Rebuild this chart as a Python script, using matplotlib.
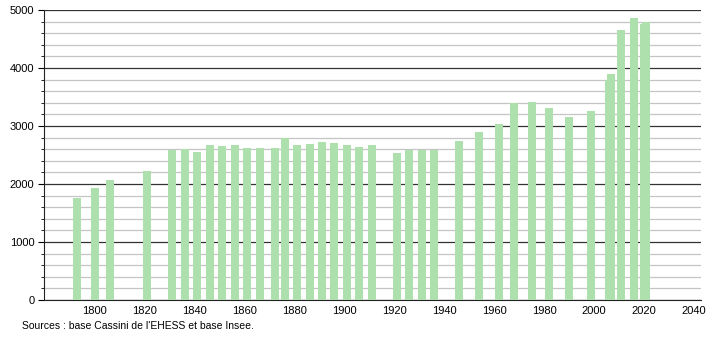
import matplotlib
matplotlib.use("Agg")
import matplotlib.pyplot as plt
from matplotlib.ticker import MultipleLocator

# population par recensement
years = [1793, 1800, 1806, 1821, 1831, 1836, 1841, 1846, 1851, 1856,
         1861, 1866, 1872, 1876, 1881, 1886, 1891, 1896, 1901, 1906,
         1911, 1921, 1926, 1931, 1936, 1946, 1954, 1962, 1968, 1975,
         1982, 1990, 1999, 2006, 2007, 2011, 2016, 2020, 2021]
population = [1766, 1939, 2071, 2227, 2583, 2606, 2560, 2675, 2647, 2664,
              2629, 2629, 2629, 2790, 2675, 2693, 2727, 2710, 2675, 2641,
              2681, 2526, 2578, 2589, 2578, 2745, 2900, 3038, 3389, 3418,
              3303, 3147, 3262, 3790, 3897, 4661, 4862, 4760, 4787]
xticks = [1800, 1820, 1840, 1860, 1880, 1900, 1920, 1940, 1960, 1980, 2000, 2020, 2040]

plt.rcParams['font.family'] = ['Liberation Sans', 'DejaVu Sans']

fig = plt.figure(figsize=(7.1, 3.4), dpi=100)
ax = fig.add_axes([0.062, 0.1176, 0.925, 0.853])

ax.bar(years, population, width=3.2, color='#ade0ad', zorder=3)

ax.set_xlim(1779.6, 2042.8)
ax.set_ylim(0, 5000)
ax.set_xticks(xticks)
ax.yaxis.set_major_locator(MultipleLocator(1000))
ax.yaxis.set_minor_locator(MultipleLocator(200))

ax.grid(axis='y', which='major', color='#333333', lw=0.9, zorder=1)
ax.grid(axis='y', which='minor', color='#c4c4c4', lw=0.9, zorder=0)

for s in ['top', 'right']:
    ax.spines[s].set_visible(False)
ax.spines['left'].set_color('#222222')
ax.spines['bottom'].set_color('#222222')
ax.tick_params(axis='x', length=0, labelsize=8, pad=4)
ax.tick_params(axis='y', which='major', length=4, labelsize=8, pad=3)
ax.tick_params(axis='y', which='minor', length=2)

fig.text(0.031, 0.032, "Sources : base Cassini de l'EHESS et base Insee.", fontsize=7.5)

fig.savefig('out.png', dpi=100)
